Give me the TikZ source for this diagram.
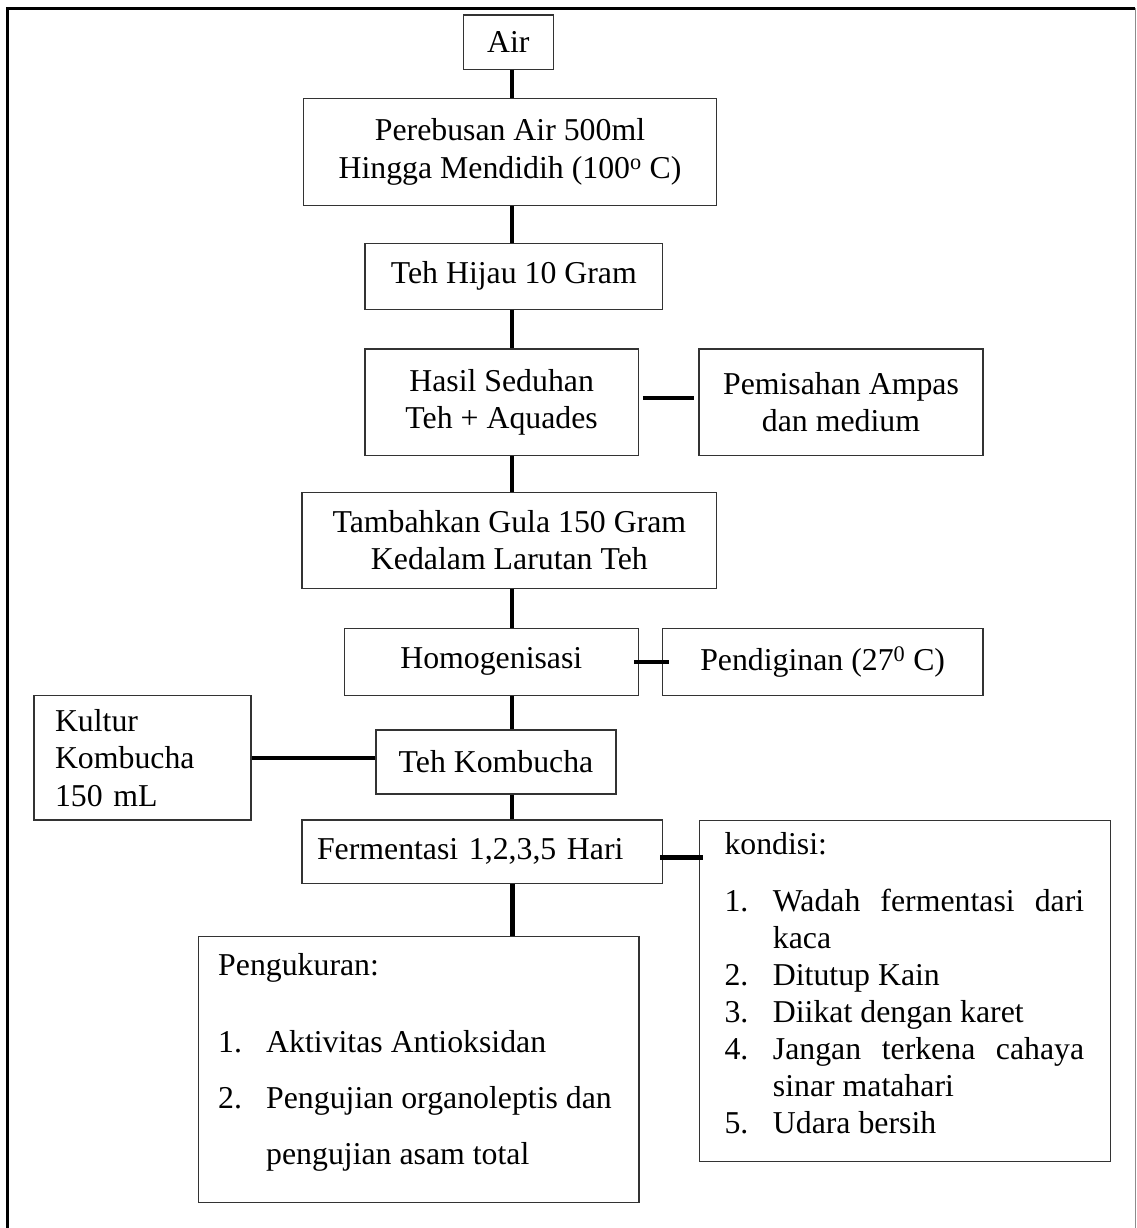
\documentclass[tikz,border=0pt]{standalone}
\usepackage{fontspec}
\setmainfont{Liberation Serif}
\usepackage{array}
\usetikzlibrary{calc}

\begin{document}
\begin{tikzpicture}[x=1pt,y=-1pt,
  box/.style={draw=black!80,line width=1.3pt,inner sep=0pt,align=center,
    font=\fontsize{31.8pt}{37.5pt}\selectfont},
  txt/.style={inner sep=0pt,anchor=north west,font=\fontsize{31.8pt}{37pt}\selectfont},
  link/.style={line width=3.5pt},
  heavylink/.style={line width=4.5pt}]
\useasboundingbox (0,0) rectangle (1136,1228);
\draw[line width=2.2pt] (7.5,1240) |- (1135,8.5);
\draw[black!45,line width=1pt] (1135,8.5) -- (1135,1240);

\coordinate (spine) at (512,0);

\node[box,minimum width=90pt,minimum height=54.3pt] (air) at (508.3,42.15) {Air};
\node[box,minimum width=413.4pt,minimum height=107.4pt] (pereb) at (510,152)
  {Perebusan Air 500ml\\Hingga Mendidih (100\textsuperscript{o} C)};
\node[box,minimum width=297.7pt,minimum height=66pt] (hijau) at (513.85,276.3) {Teh Hijau 10 Gram};
\node[box,minimum width=273.3pt,minimum height=106.7pt] (hasil) at (501.65,402.35)
  {Hasil Seduhan\\Teh + Aquades};
\node[box,minimum width=284pt,minimum height=106.7pt] (pemis) at (841,402.35)
  {Pemisahan Ampas\\dan medium};
\node[box,minimum width=414.7pt,minimum height=96pt] (tamb) at (509.35,540.3)
  {Tambahkan Gula 150 Gram\\Kedalam Larutan Teh};
\node[box,minimum width=294pt,minimum height=67pt] (homog) at (491.3,661.8) {Homogenisasi};
\node[box,minimum width=320.7pt,minimum height=67pt] (pend) at (822.65,661.8)
  {Pendiginan (27\textsuperscript{0} C)};
\node[box,align=left,text width=175pt,inner xsep=21pt,minimum height=124.3pt] (kultur)
  at (142.5,757.85) {Kultur\\Kombucha\\150 mL};
\node[box,minimum width=240pt,minimum height=64pt] (tehk) at (496,762) {Teh Kombucha};
\node[box,align=left,text width=330.7pt,inner xsep=15pt,minimum height=63.3pt] (ferm)
  at (482.35,851.65) {Fermentasi 1,2,3,5 Hari};

\node[box,minimum width=411pt,minimum height=340.7pt,anchor=north west] (kond) at (699,820) {};
\node[txt] (kondtxt) at (724.3,828.1)
  {\begin{tabular}{@{}p{48.4pt}@{}>{\tolerance=9999\hyphenpenalty=10000}p{311.3pt}@{}}
   \multicolumn{2}{@{}l@{}}{kondisi:}\\[20pt]
   1. & Wadah fermentasi dari kaca\\
   2. & Ditutup Kain\\
   3. & Diikat dengan karet\\
   4. & Jangan terkena cahaya sinar matahari\\
   5. & Udara bersih
   \end{tabular}};

\node[box,minimum width=440.6pt,minimum height=266pt,anchor=north west] (peng) at (197.7,936) {};
\node[txt,font=\fontsize{31.8pt}{56pt}\selectfont] (pengtxt) at (218,935.8)
  {\begin{tabular}{@{}p{48pt}@{}>{\raggedright\arraybackslash}p{360pt}@{}}
   \multicolumn{2}{@{}l@{}}{Pengukuran:}\\[21pt]
   1. & Aktivitas Antioksidan\\
   2. & Pengujian organoleptis dan pengujian asam total
   \end{tabular}};

\draw[link] (air.south -| spine) -- (pereb.north -| spine);
\draw[link] (pereb.south -| spine) -- (hijau.north -| spine);
\draw[link] (hijau.south -| spine) -- (hasil.north -| spine);
\draw[link,shorten <=4pt,shorten >=4pt] ([yshift=4.6pt]hasil.east) -- ([yshift=4.6pt]hasil.east -| pemis.west);
\draw[link] (hasil.south -| spine) -- (tamb.north -| spine);
\draw[link] (tamb.south -| spine) -- (homog.north -| spine);
\draw[link,shorten <=-5pt,shorten >=-7pt] (homog.east) -- (pend.west);
\draw[link] (homog.south -| spine) -- (tehk.north -| spine);
\draw[heavylink] (kultur.east) -- (kultur.east -| tehk.west);
\draw[link] (tehk.south -| spine) -- (ferm.north -| spine);
\draw[heavylink,shorten <=-3pt,shorten >=-4pt] ([yshift=-6pt]ferm.east) -- ([yshift=-6pt]ferm.east -| kond.west);
\draw[line width=5pt] (ferm.south -| spine) -- (peng.north -| spine);
\end{tikzpicture}
\end{document}
